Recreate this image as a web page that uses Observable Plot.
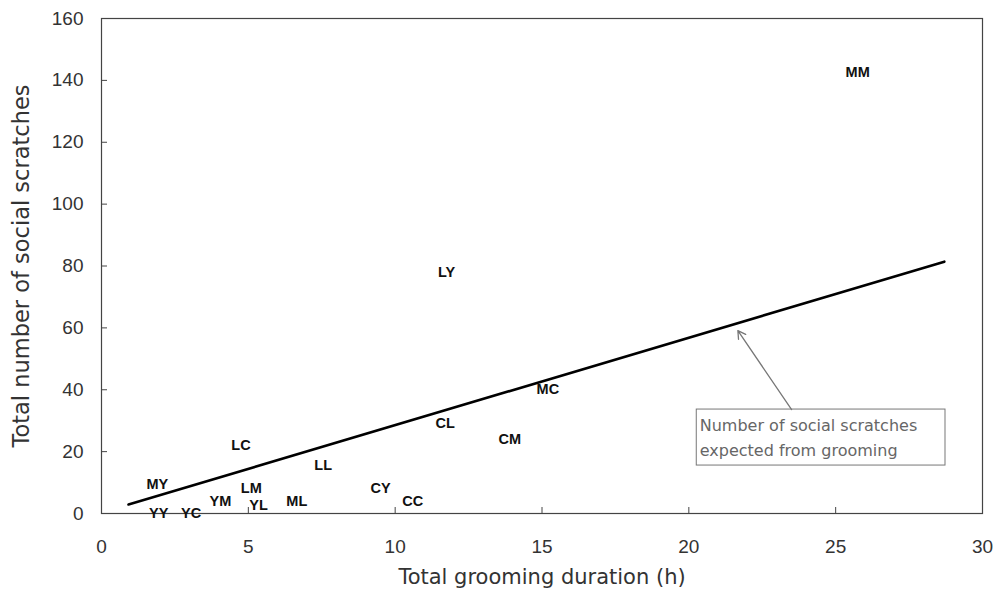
<!DOCTYPE html>
<html>
<head>
<meta charset="utf-8">
<script src="https://cdn.jsdelivr.net/npm/d3@7"></script>
<script src="https://cdn.jsdelivr.net/npm/@observablehq/plot@0.6"></script>
<style>
  html, body { margin: 0; padding: 0; background: #fff; }
  #chart svg { display: block; }
</style>
</head>
<body>
<div id="chart"></div>
<script>
// Pair labels (groomer-recipient) and values
const pairs = ["MM", "LY", "MC", "CL", "CM", "LC", "LL", "MY", "CY", "LM", "YM", "ML", "CC", "YL", "YY", "YC"];
const groomingHours = [25.75, 11.75, 15.2, 11.7, 13.9, 4.75, 7.55, 1.9, 9.5, 5.1, 4.05, 6.65, 10.6, 5.35, 1.95, 3.05];
const scratches = [142.5, 78, 40, 29, 24, 22, 15.5, 9.5, 8, 8, 4, 4, 4, 2.5, 0, 0];

// Expected line (social scratches expected from grooming)
const lineX = [0.92, 28.7];
const lineY = [2.9, 81.4];

// Tick values
const xTicks = [0, 5, 10, 15, 20, 25, 30];
const yTicks = [0, 20, 40, 60, 80, 100, 120, 140, 160];

// Annotation (data units)
const noteText = ["Number of social scratches", "expected from grooming"];
const noteBox = {x1: 20.27, x2: 28.74, y1: 15.5, y2: 33.6};
const arrowFrom = {x: 23.5, y: 33.6};
const arrowTo = {x: 21.67, y: 59.1};

const points = pairs.map((p, i) => ({pair: p, x: groomingHours[i], y: scratches[i]}));
const line = lineX.map((x, i) => ({x, y: lineY[i]}));

const chart = Plot.plot({
  width: 1001,
  height: 603,
  marginLeft: 101,
  marginRight: 19,
  marginTop: 18,
  marginBottom: 90,
  style: {fontFamily: "Liberation Sans, Arial, sans-serif", background: "#fff"},
  x: {domain: [0, 30]},
  y: {domain: [0, 160]},
  marks: [
    Plot.frame({stroke: "#444", strokeWidth: 1.2}),
    Plot.axisX({ticks: xTicks, tickSize: -6, tickPadding: 32, tickFormat: d => d, fontSize: 19, stroke: "#444", fill: "#333", label: null}),
    Plot.axisY({ticks: yTicks, tickSize: -6, tickPadding: 24, tickFormat: d => d, fontSize: 19, stroke: "#444", fill: "#333", label: null}),
    Plot.axisY({ticks: [], tickSize: 0, label: "Total number of social scratches", labelAnchor: "center", labelArrow: "none", labelOffset: 88,
      fontSize: 22.5, fontFamily: "DejaVu Sans", fill: "#333"}),
    Plot.text(["Total grooming duration (h)"], {frameAnchor: "bottom", dy: 70, fontSize: 21, fontFamily: "DejaVu Sans", fill: "#333", text: d => d}),
    Plot.line(line, {x: "x", y: "y", stroke: "#000", strokeWidth: 2.6}),
    Plot.rect([noteBox], {x1: "x1", x2: "x2", y1: "y1", y2: "y2", fill: "#fff", stroke: "#777", strokeWidth: 1}),
    Plot.arrow([{x1: arrowFrom.x, y1: arrowFrom.y, x2: arrowTo.x, y2: arrowTo.y}], {x1: "x1", y1: "y1", x2: "x2", y2: "y2", stroke: "#777", strokeWidth: 1.3, headLength: 10}),
    Plot.text([noteText.join("\n")], {x: noteBox.x1, y: noteBox.y2, dx: 3, dy: 4, textAnchor: "start", lineAnchor: "top", lineHeight: 1.55, fontSize: 16, fill: "#666", fontFamily: "DejaVu Sans", text: d => d}),
    Plot.text(points, {x: "x", y: "y", text: "pair", fontSize: 14.5, fontWeight: "bold", fill: "#111"})
  ]
});
document.getElementById("chart").appendChild(chart);
</script>
</body>
</html>
